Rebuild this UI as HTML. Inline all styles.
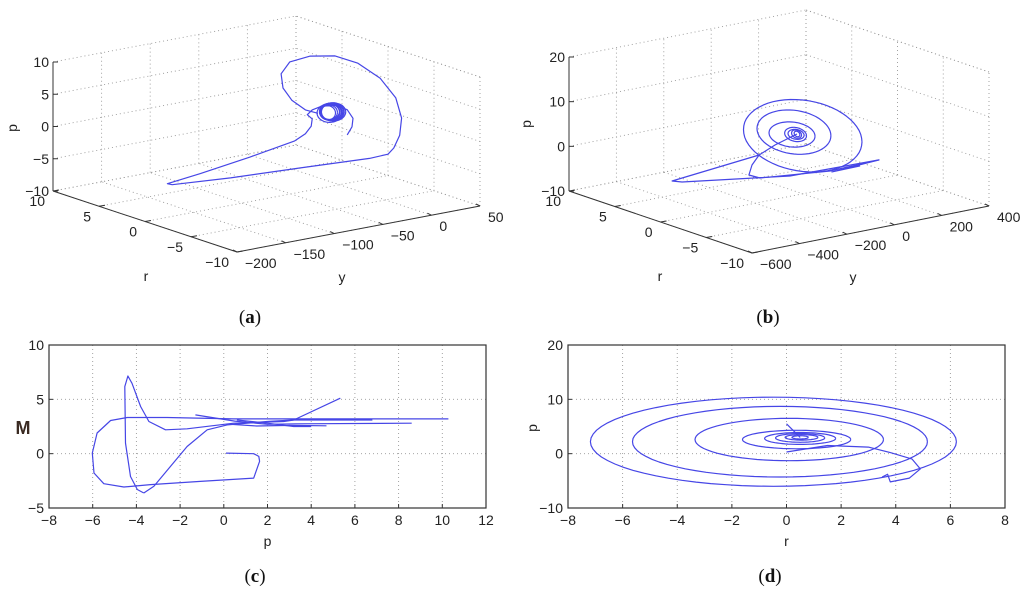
<!DOCTYPE html>
<html><head><meta charset="utf-8"><style>
html,body{margin:0;padding:0;background:#fff;}
svg{display:block;font-family:"Liberation Sans",sans-serif;}
.tk{font-size:14px;fill:#222;}
.cap{font-family:"Liberation Serif",serif;font-size:19px;fill:#111;}
</style></head><body>
<svg id="fig" width="1024" height="593" viewBox="0 0 1024 593" xmlns="http://www.w3.org/2000/svg">
<text class="cap" x="250" y="323" text-anchor="middle">(<tspan font-weight="bold">a</tspan>)</text>
<text class="cap" x="768" y="323" text-anchor="middle">(<tspan font-weight="bold">b</tspan>)</text>
<text class="cap" x="255" y="582" text-anchor="middle">(<tspan font-weight="bold">c</tspan>)</text>
<text class="cap" x="770" y="582" text-anchor="middle">(<tspan font-weight="bold">d</tspan>)</text>
</svg>
<script>
// ---------- DATA ----------
const aTicksP=[-10,-5,0,5,10];
const aTicksR=[-10,-5,0,5,10];
const aTicksY=[-200,-150,-100,-50,0,50];
const aPathY=[8,13,14,8,-3.5,-18,-28,-33,-28,-29,-35,-46,-92,-143,-177,-172,-112,-40,31,50,56,62,64,58,42,19,-4.5,-30,-51,-60,-58,-49,-35,-22];
const aPathP=[-2.5,-1.4,-0.1,1.4,2.4,2.7,2.4,1.8,1.0,-0.1,-1.1,-1.9,-3.1,-4.2,-4.8,-5.1,-5.75,-6.25,-6.8,-6.7,-5.9,-4.1,-1.5,1.8,5.3,8.3,10.1,10.8,10.5,8.9,6.65,4.5,2.6,1.7];
const aCoilCY=[-12,-11,-10,-10,-9,-9,-8,-7,-6,-10];
const aCoilCP=[1.5,1.55,1.6,1.55,1.5,1.6,1.55,1.5,1.45,1.4];
const aCoilRY=[8,9,10,10.5,11,11.5,12,12,12.5,13];
const aCoilRP=[1.1,1.15,1.2,1.25,1.3,1.3,1.35,1.4,1.4,1.45];
const bTicksP=[-10,0,10,20];
const bTicksR=[-10,-5,0,5,10];
const bTicksY=[-600,-400,-200,0,200,400];
const bRingCY=[-24,-26,-28,-30,-45,-37,0];
const bRingCP=[3.64,3.64,3.6,3.6,3.75,4.2,3.0];
const bRingRY=[12,21,34,46,97,156,250];
const bRingRP=[0.6,0.9,1.1,1.57,2.8,4.9,8.0];
const bPath1Y=[-24,-117,-184,-551,-509,-54,322,123,242];
const bPath1P=[3.64,2.16,0.63,-1.33,-2.0,-5.45,-5.8,-6.4,-6.3];
const bPath2Y=[-184,-214,-227,-180,115,322];
const bPath2P=[0.63,-1.29,-3.4,-4.56,-6.1,-5.8];
const cTicksX=[-8,-6,-4,-2,0,2,4,6,8,10,12];
const cTicksY=[-5,0,5,10];
const cSeg1X=[0.1,1.37,1.6,1.64,1.37,-1.07,-3.35,-4.57,-5.49,-5.94,-6.02,-5.8,-5.18,-4.42,-2.6,0.45,5.0,10.28];
const cSeg1Y=[0.05,0,-0.25,-0.7,-2.25,-2.55,-2.85,-3.07,-2.76,-1.78,0.05,1.9,3.05,3.33,3.33,3.2,3.2,3.2];
const cSeg2X=[-3.66,-3.96,-4.27,-4.5,-4.53,-4.39,-4.2,-3.81,-3.43,-2.67,-1.68,0.45,2.74,3.2,5.33];
const cSeg2Y=[-3.62,-3.3,-2.1,0.97,6.17,7.15,6.48,4.34,2.96,2.2,2.29,2.8,2.96,3.1,5.1];
const cSeg3X=[-3.66,-3.2,-2.44,-1.68,-0.76,0.15,1.98,3.2,6.8];
const cSeg3Y=[-3.62,-3.0,-1.17,0.66,2.2,2.65,2.96,3.1,3.1];
const cSeg4X=[-1.3,0.5,2.0,3.3,8.6];
const cSeg4Y=[3.57,3.0,2.7,2.75,2.8];
const cSeg5X=[0.3,1.5,3.0,4.7];
const cSeg5Y=[2.7,2.55,2.6,2.56];
const cSeg6X=[0.6,2.0,3.2,4.0];
const cSeg6Y=[3.1,2.8,2.5,2.5];
const dTicksX=[-8,-6,-4,-2,0,2,4,6,8];
const dTicksY=[-10,0,10,20];
const dRingCX=[-0.48,-0.24,0.1,0.37,0.5,0.5,0.55,0.5];
const dRingCY=[2.2,2.2,2.6,2.6,2.8,2.9,3.0,3.0];
const dRingRX=[6.7,5.4,3.45,1.98,1.3,0.9,0.6,0.3];
const dRingRY=[8.2,6.5,3.9,1.7,1.1,0.8,0.5,0.3];
const dHookX=[0,1.5,3.0,3.8,4.6,4.9,4.5,3.8,3.7,3.5];
const dHookY=[0.3,1.5,1.2,0.2,-1.0,-2.8,-4.5,-5.2,-3.8,-4.3];
const dSpikeX=[0.0,0.3,0.5];
const dSpikeY=[5.5,4.0,3.0];

// ---------- DRAW ----------
const NS='http://www.w3.org/2000/svg';
const svg=document.getElementById('fig');
const BLUE='#4646e6';
function mk(tag,attrs,parent){const e=document.createElementNS(NS,tag);for(const k in attrs)e.setAttribute(k,attrs[k]);(parent||svg).appendChild(e);return e;}
function polyStr(pts){return pts.map(p=>p[0].toFixed(1)+','+p[1].toFixed(1)).join(' ');}

function make3D(cfg){
  const g=mk('g',{});
  
  
  const [y0,y1]=cfg.yl,[r0,r1]=cfg.rl,[p0,p1]=cfg.pl;
  function P(y,r,p){const fy=(y-y0)/(y1-y0),fr=(r-r0)/(r1-r0),fp=(p-p0)/(p1-p0);
    return [cfg.F[0]+fy*cfg.ey[0]+fr*cfg.er[0]+fp*cfg.ez[0], cfg.F[1]+fy*cfg.ey[1]+fr*cfg.er[1]+fp*cfg.ez[1]];}
  function dl(a,b,name){const l=mk('line',{x1:a[0],y1:a[1],x2:b[0],y2:b[1],stroke:'#999','stroke-width':0.9,'stroke-dasharray':'1,3'},g);
    }
  cfg.ty.forEach(y=>{dl(P(y,r1,p0),P(y,r1,p1),'grid-y');dl(P(y,r0,p0),P(y,r1,p0),'grid-y-floor');});
  cfg.tp.forEach(p=>{dl(P(y0,r1,p),P(y1,r1,p),'grid-p');dl(P(y1,r0,p),P(y1,r1,p),'grid-p-side');});
  cfg.tr.forEach(r=>{dl(P(y1,r,p0),P(y1,r,p1),'grid-r');dl(P(y0,r,p0),P(y1,r,p0),'grid-r-floor');});
  dl(P(y1,r0,p1),P(y1,r1,p1),'box-edge');
  function sl(a,b,name){const l=mk('line',{x1:a[0],y1:a[1],x2:b[0],y2:b[1],stroke:'#333','stroke-width':1},g);
    }
  sl(P(y0,r1,p0),P(y0,r1,p1),'p-axis');
  sl(P(y0,r0,p0),P(y0,r1,p0),'r-axis');
  sl(P(y0,r0,p0),P(y1,r0,p0),'y-axis');
  function tx(x,y,s,anchor,name){const t=mk('text',{x:x,y:y,'text-anchor':anchor,class:'tk'},g);t.textContent=s;
    return t;}
  cfg.tp.forEach(p=>{const a=P(y0,r1,p);sl(a,[a[0]+5,a[1]],'p-tick');tx(a[0]-4,a[1]+5,String(p).replace('-','\u2212'),'end','p-tick-label');});
  cfg.tr.forEach(r=>{const a=P(y0,r,p0);sl(a,[a[0]+6,a[1]-1],'r-tick');tx(a[0]-8,a[1]+15,String(r).replace('-','\u2212'),'end','r-tick-label');});
  cfg.ty.forEach(y=>{const a=P(y,r0,p0);sl(a,[a[0]-4,a[1]-2],'y-tick');tx(a[0]+8,a[1]+16,String(y).replace('-','\u2212'),'start','y-tick-label');});
  const pl=tx(cfg.plab[0],cfg.plab[1],'p','middle','p-axis-title');pl.setAttribute('transform','rotate(-90 '+cfg.plab[0]+' '+cfg.plab[1]+')');
  tx(cfg.rlab[0],cfg.rlab[1],'r','middle','r-axis-title');
  tx(cfg.ylab[0],cfg.ylab[1],'y','middle','y-axis-title');
  return {g,P};
}
function curve(g,pts,name){const l=mk('polyline',{points:polyStr(pts),fill:'none',stroke:BLUE,'stroke-width':1.2,'stroke-linejoin':'round'},g);
  }

const A=make3D({name:'panel-a',yl:[-200,50],rl:[-10,10],pl:[-10,10],F:[237,252],ey:[243,-46],er:[-184,-61],ez:[0,-129],
  ty:aTicksY,tr:aTicksR,tp:aTicksP,plab:[17,128],rlab:[146,281],ylab:[342,282]});
curve(A.g,aPathY.map((y,i)=>A.P(y,0,aPathP[i])),'trajectory-a');
aCoilCY.forEach((cy,k)=>{const pts=[];for(let t=0;t<=40;t++){const th=t/40*2*Math.PI;
  pts.push(A.P(cy+aCoilRY[k]*Math.cos(th),0,aCoilCP[k]+aCoilRP[k]*Math.sin(th)-0.25*aCoilRP[k]*Math.cos(th)));}
  curve(A.g,pts,'coil-a');});

const B=make3D({name:'panel-b',yl:[-600,400],rl:[-10,10],pl:[-10,20],F:[752,253],ey:[237,-47],er:[-183,-62],ez:[0,-134],
  ty:bTicksY,tr:bTicksR,tp:bTicksP,plab:[531,124],rlab:[660,281],ylab:[853,282]});
bRingCY.forEach((cy,k)=>{const pts=[];for(let t=0;t<=60;t++){const th=t/60*2*Math.PI;
  pts.push(B.P(cy+bRingRY[k]*Math.cos(th),0,bRingCP[k]+bRingRP[k]*Math.sin(th)-0.5*bRingRP[k]*Math.cos(th)));}
  curve(B.g,pts,'spiral-ring-b');});
curve(B.g,bPath1Y.map((y,i)=>B.P(y,0,bPath1P[i])),'trajectory-b');
curve(B.g,bPath2Y.map((y,i)=>B.P(y,0,bPath2P[i])),'trajectory-b-lower');

function make2D(cfg){
  const g=mk('g',{});
  
  
  const X=v=>cfg.x0+(v-cfg.xl[0])/(cfg.xl[1]-cfg.xl[0])*(cfg.x1-cfg.x0);
  const Y=v=>cfg.y1-(v-cfg.yl[0])/(cfg.yl[1]-cfg.yl[0])*(cfg.y1-cfg.y0);
  cfg.tx.forEach(v=>{if(v>cfg.xl[0]&&v<cfg.xl[1]){const l=mk('line',{x1:X(v),y1:cfg.y0,x2:X(v),y2:cfg.y1,stroke:'#999','stroke-width':0.9,'stroke-dasharray':'1,3'},g);
    }});
  cfg.ty.forEach(v=>{if(v>cfg.yl[0]&&v<cfg.yl[1]){const l=mk('line',{x1:cfg.x0,y1:Y(v),x2:cfg.x1,y2:Y(v),stroke:'#999','stroke-width':0.9,'stroke-dasharray':'1,3'},g);
    }});
  const box=mk('rect',{x:cfg.x0,y:cfg.y0,width:cfg.x1-cfg.x0,height:cfg.y1-cfg.y0,fill:'none',stroke:'#333','stroke-width':1.2},g);
  
  cfg.tx.forEach(v=>{const t=mk('text',{x:X(v),y:cfg.y1+17,'text-anchor':'middle',class:'tk'},g);t.textContent=String(v).replace('-','\u2212');
    
    const k=mk('line',{x1:X(v),y1:cfg.y1,x2:X(v),y2:cfg.y1-4,stroke:'#333'},g);});
  cfg.ty.forEach(v=>{const t=mk('text',{x:cfg.x0-5,y:Y(v)+5,'text-anchor':'end',class:'tk'},g);t.textContent=String(v).replace('-','\u2212');
    
    const k=mk('line',{x1:cfg.x0,y1:Y(v),x2:cfg.x0+4,y2:Y(v),stroke:'#333'},g);});
  const xt=mk('text',{x:(cfg.x0+cfg.x1)/2,y:cfg.y1+38,'text-anchor':'middle',class:'tk'},g);xt.textContent=cfg.xlab;
  
  return {g,X,Y};
}
const C=make2D({name:'panel-c',x0:49,x1:486,y0:345,y1:508,xl:[-8,12],yl:[-5,10],tx:cTicksX,ty:cTicksY,xlab:'p'});
const mt=mk('text',{x:23,y:434,'text-anchor':'middle','font-size':'18','font-weight':'bold',fill:'#3a2a22'},C.g);mt.textContent='M';

[[cSeg1X,cSeg1Y],[cSeg2X,cSeg2Y],[cSeg3X,cSeg3Y],[cSeg4X,cSeg4Y],[cSeg5X,cSeg5Y],[cSeg6X,cSeg6Y]].forEach(s=>{
  curve(C.g,s[0].map((x,i)=>[C.X(x),C.Y(s[1][i])]),'trajectory-c');});
const D=make2D({name:'panel-d',x0:568,x1:1005,y0:345,y1:508,xl:[-8,8],yl:[-10,20],tx:dTicksX,ty:dTicksY,xlab:'r'});
const pt=mk('text',{x:537,y:428,'text-anchor':'middle',class:'tk',transform:'rotate(-90 537 428)'},D.g);pt.textContent='p';

dRingCX.forEach((cx,k)=>{const pts=[];for(let t=0;t<=72;t++){const th=t/72*2*Math.PI;
  pts.push([D.X(cx+dRingRX[k]*Math.cos(th)),D.Y(dRingCY[k]+dRingRY[k]*Math.sin(th))]);}
  curve(D.g,pts,'spiral-ring-d');});
curve(D.g,dHookX.map((x,i)=>[D.X(x),D.Y(dHookY[i])]),'trajectory-d-start');
curve(D.g,dSpikeX.map((x,i)=>[D.X(x),D.Y(dSpikeY[i])]),'trajectory-d-spike');
</script>
</body></html>
